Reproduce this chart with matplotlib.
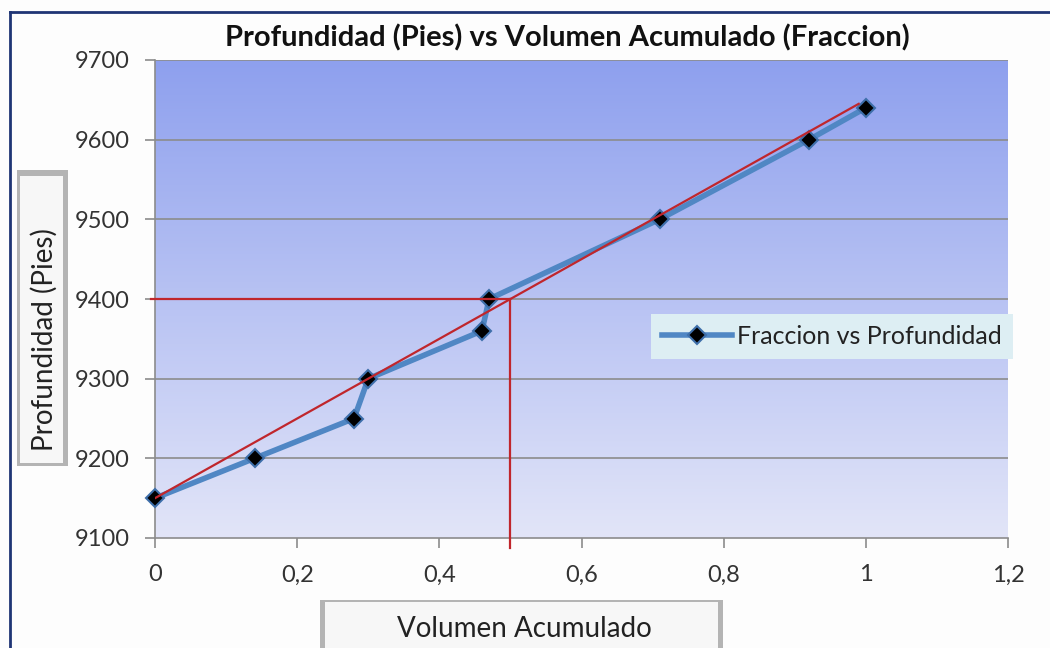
import numpy as np
import matplotlib.pyplot as plt
from matplotlib.patches import Rectangle
from matplotlib.lines import Line2D
from matplotlib.colors import LinearSegmentedColormap

plt.rcParams['font.family'] = ['Lato', 'DejaVu Sans']

# datos: fraccion de volumen acumulado vs profundidad
fraccion = [0.0, 0.14, 0.28, 0.30, 0.46, 0.47, 0.71, 0.92, 1.0]
profundidad = [9150, 9200, 9250, 9300, 9360, 9400, 9500, 9600, 9640]

# recta de tendencia y lectura al 50 %
tend_x = [0.0, 0.99]
tend_y = [9150, 9645]
lectura_x = 0.5
lectura_y = 9400

xticks = [0, 0.2, 0.4, 0.6, 0.8, 1.0, 1.2]
xlabels = ['0', '0,2', '0,4', '0,6', '0,8', '1', '1,2']
yticks = [9100, 9200, 9300, 9400, 9500, 9600, 9700]

W, H = 1050, 648
fig = plt.figure(figsize=(10.5, 6.48), dpi=100)
fig.patch.set_facecolor('#FDFDFD')


def fx(px):
    return px / W


def fy(py):
    return 1 - py / H


ax = fig.add_axes([fx(155), fy(538), fx(1008) - fx(155), fy(60) - fy(538)])
ax.set_xlim(0, 1.2)
ax.set_ylim(9100, 9700)

# fondo degradado
cmap = LinearSegmentedColormap.from_list('fondo', ['#E2E5F8', '#8EA0EE'])
grad = np.linspace(0, 1, 256).reshape(-1, 1)
ax.imshow(grad, cmap=cmap, aspect='auto', extent=[0, 1, 0, 1],
          transform=ax.transAxes, origin='lower', zorder=0)

for y in yticks[1:]:
    ax.axhline(y, color='#8C8C8C', lw=1.2, zorder=1)

for s in ['top', 'right']:
    ax.spines[s].set_visible(False)
for s in ['left', 'bottom']:
    ax.spines[s].set_color('#8C8C8C')
    ax.spines[s].set_linewidth(1.2)

ax.set_xticks(xticks)
ax.set_xticklabels(xlabels)
ax.set_yticks(yticks)
ax.tick_params(axis='both', colors='#8C8C8C', labelcolor='#333333',
               labelsize=17, length=7, width=1.2, direction='out')
ax.tick_params(axis='x', pad=12)
ax.tick_params(axis='y', pad=11)

ax.plot(fraccion, profundidad, color='#5087C4', lw=4, marker='D',
        markersize=9, markerfacecolor='black', markeredgecolor='#3E6FAA',
        markeredgewidth=1.5, zorder=3, label='Fraccion vs Profundidad',
        clip_on=False)

ax.plot(tend_x, tend_y, color='#C0262C', lw=1.6, zorder=4)
ax.plot([-0.006, lectura_x], [lectura_y, lectura_y], color='#C0262C',
        lw=1.6, zorder=4, clip_on=False)
ax.plot([lectura_x, lectura_x], [9088, lectura_y], color='#C0262C',
        lw=1.6, zorder=4, clip_on=False)

leg = ax.legend(loc='upper left', bbox_to_anchor=(fx(651), fy(314)),
                bbox_transform=fig.transFigure, fontsize=18,
                frameon=True, fancybox=False, borderaxespad=0,
                handlelength=2.8, borderpad=0.45, handletextpad=0.2)
leg.get_frame().set_facecolor('#DDEEF3')
leg.get_frame().set_edgecolor('none')
leg.get_frame().set_alpha(1)
for t in leg.get_texts():
    t.set_color('#222222')

fig.text(fx(567), fy(38), 'Profundidad (Pies) vs Volumen Acumulado (Fraccion)',
         ha='center', va='center', fontsize=21, fontweight='bold',
         color='#111111')


def caja(x0, y0, x1, y1, lados):
    # caja con borde biselado gris
    fig.patches.append(Rectangle((fx(x0), fy(y1)), fx(x1) - fx(x0), fy(y0) - fy(y1),
                                 transform=fig.transFigure, facecolor='#B4B4B4',
                                 edgecolor='none', zorder=1))
    l, t, r, b = lados
    fig.patches.append(Rectangle((fx(x0 + l), fy(y1 - b)),
                                 fx(x1 - r) - fx(x0 + l), fy(y0 + t) - fy(y1 - b),
                                 transform=fig.transFigure, facecolor='#F7F7F7',
                                 edgecolor='none', zorder=2))


caja(17, 170, 68, 466, (3, 6, 5, 3))
fig.text(fx(44), fy(340), 'Profundidad (Pies)', rotation=90, ha='center',
         va='center', fontsize=20, color='#222222', zorder=3)

caja(320, 600, 723, 660, (5, 2, 5, 0))
fig.text(fx(524), fy(629), 'Volumen Acumulado', ha='center', va='center',
         fontsize=20, color='#222222', zorder=3)

# marco exterior
fig.lines.append(Line2D([fx(10), fx(10)], [0, fy(12)], transform=fig.transFigure,
                        color='#1F3575', lw=2))
fig.lines.append(Line2D([fx(10), 1], [fy(12), fy(12)], transform=fig.transFigure,
                        color='#1F3575', lw=2))

fig.savefig('out.png', dpi=100, facecolor=fig.get_facecolor())
